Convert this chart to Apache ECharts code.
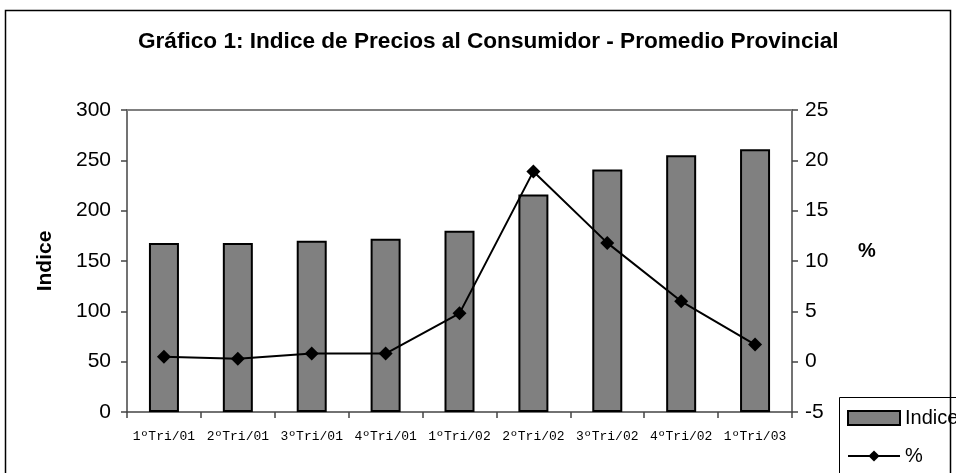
<!DOCTYPE html>
<html>
<head>
<meta charset="utf-8">
<script src="https://cdn.jsdelivr.net/npm/echarts@6/dist/echarts.min.js"></script>
<style>
  html, body { margin: 0; padding: 0; background: #fff; }
  #chart { width: 956px; height: 473px; }
</style>
</head>
<body>
<div id="chart"></div>
<script>
  var categories = ['1ºTri/01', '2ºTri/01', '3ºTri/01', '4ºTri/01', '1ºTri/02', '2ºTri/02', '3ºTri/02', '4ºTri/02', '1ºTri/03'];
  var indice = [168, 168, 170, 172, 180, 216, 241, 255, 261];
  var variacion = [0.5, 0.3, 0.8, 0.8, 4.8, 18.9, 11.8, 6.0, 1.7];

  var legendText = { fontFamily: 'Liberation Sans', fontSize: 20, lineHeight: 20, color: '#000' };

  var chart = echarts.init(document.getElementById('chart'));
  var option = {
    animation: false,
    backgroundColor: '#fff',
    title: {
      text: 'Gráfico 1: Indice de Precios al Consumidor - Promedio Provincial',
      left: 133,
      top: 25,
      textStyle: { fontFamily: 'Liberation Sans', fontSize: 22.6, fontWeight: 'bold', color: '#000' }
    },
    graphic: [{
      type: 'rect',
      shape: { x: 5.5, y: 10.5, width: 945, height: 480 },
      style: { fill: 'none', stroke: '#000', lineWidth: 1.5 },
      z: 100
    }, {
      // recuadro de la leyenda
      type: 'rect',
      shape: { x: 839.5, y: 397.5, width: 140, height: 100 },
      style: { fill: '#fff', stroke: '#000', lineWidth: 1 },
      z: 1
    }],
    legend: [{
      left: 847,
      top: 408,
      padding: 0,
      itemWidth: 52,
      itemHeight: 14,
      textStyle: legendText,
      data: [{ name: 'Indice', icon: 'rect' }]
    }, {
      left: 847,
      top: 446,
      padding: 0,
      itemWidth: 52,
      itemHeight: 14,
      textStyle: legendText,
      data: [{ name: '%' }]
    }],
    grid: { left: 127, right: 164, top: 110, bottom: 61 },
    xAxis: [{
      type: 'category',
      data: categories,
      position: 'bottom',
      axisLine: { onZero: false, lineStyle: { color: '#444', width: 1.5 } },
      axisTick: { show: true, length: 6, lineStyle: { color: '#444', width: 1.5 } },
      axisLabel: { fontFamily: 'Liberation Mono', fontSize: 13, color: '#000', margin: 18, interval: 0 }
    }, {
      type: 'category',
      data: categories,
      position: 'top',
      axisLine: { onZero: false, lineStyle: { color: '#808080', width: 2 } },
      axisTick: { show: false },
      axisLabel: { show: false }
    }],
    yAxis: [{
      type: 'value',
      name: 'Indice',
      nameLocation: 'middle',
      nameGap: 71,
      nameTextStyle: { fontFamily: 'Liberation Sans', fontSize: 21, fontWeight: 'bold', color: '#000' },
      min: 0, max: 300, interval: 50,
      axisLine: { show: true, lineStyle: { color: '#444', width: 1.5 } },
      axisTick: { show: true, length: 6, lineStyle: { color: '#444', width: 1.5 } },
      axisLabel: { fontFamily: 'Liberation Sans', fontSize: 21, color: '#000', margin: 16 },
      splitLine: { show: false }
    }, {
      type: 'value',
      name: '%',
      nameLocation: 'middle',
      nameGap: 66,
      nameRotate: 0,
      nameTextStyle: { fontFamily: 'Liberation Sans', fontSize: 20, fontWeight: 'bold', color: '#000', verticalAlign: 'bottom' },
      min: -5, max: 25, interval: 5,
      axisLine: { show: true, lineStyle: { color: '#444', width: 1.5 } },
      axisTick: { show: true, length: 6, lineStyle: { color: '#444', width: 1.5 } },
      axisLabel: { fontFamily: 'Liberation Sans', fontSize: 21, color: '#000', margin: 13 },
      splitLine: { show: false }
    }],
    series: [{
      name: 'Indice',
      type: 'bar',
      yAxisIndex: 0,
      barWidth: 30,
      itemStyle: { color: '#808080', borderColor: '#000', borderWidth: 2 },
      data: indice
    }, {
      name: '%',
      type: 'line',
      yAxisIndex: 1,
      symbol: 'diamond',
      symbolSize: 14,
      lineStyle: { color: '#000', width: 2 },
      itemStyle: { color: '#000' },
      data: variacion,
      z: 5
    }]
  };
  chart.setOption(option);
</script>
</body>
</html>
